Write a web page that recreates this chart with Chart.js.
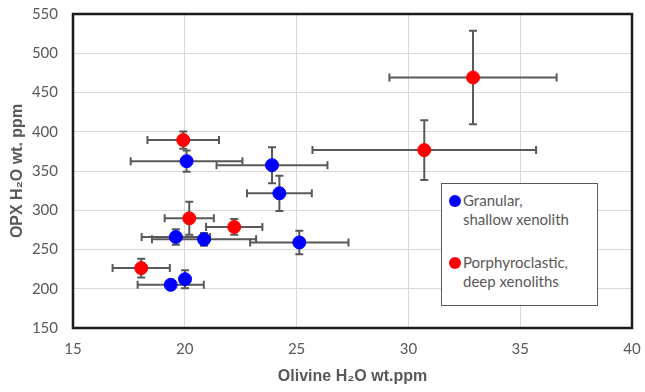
<!DOCTYPE html>
<html>
<head>
<meta charset="utf-8">
<script src="https://cdn.jsdelivr.net/npm/chart.js@4/dist/chart.umd.min.js"></script>
<style>
  html, body { margin: 0; padding: 0; background: #fff; }
  #wrap { position: relative; width: 645px; height: 392px; }
  #legend { position: absolute; left: 441px; top: 183px; width: 157px; height: 123px;
    border: 1px solid #595959; background: #fff; font-family: Lato, "Liberation Sans", sans-serif;
    font-size: 15px; color: #595959; box-sizing: border-box; }
  .item { position: absolute; left: 21px; line-height: 19px; white-space: pre-line; }
  .dot { position: absolute; left: -14px; top: 4px; width: 12px; height: 12px; border-radius: 50%; }
</style>
</head>
<body>
<div id="wrap">
  <canvas id="c" width="645" height="392"></canvas>
  <div id="legend"></div>
</div>
<script>
// ---- data ----
const seriesNames = ["Granular,\nshallow xenolith", "Porphyroclastic,\ndeep xenoliths"];

const granularX    = [20.08, 23.90, 24.23, 19.60, 20.86, 25.12, 20.01, 19.37];
const granularY    = [362.5, 357.4, 321.6, 265.9, 262.9, 259.0, 212.2, 205.0];
const granularXErr = [2.50, 2.48, 1.45, 1.53, 2.33, 2.20, 0, 1.48];
const granularYErr = [13.5, 23.0, 22.4, 9.8, 8.0, 15.0, 11.5, 0];

const porphX    = [19.93, 20.20, 22.21, 18.05, 32.89, 30.71];
const porphY    = [389.4, 289.7, 278.7, 226.3, 469.1, 376.6];
const porphXErr = [1.60, 1.10, 1.26, 1.28, 3.74, 5.00];
const porphYErr = [11.0, 21.0, 10.0, 12.0, 59.6, 38.0];

const xTicks = [15, 20, 25, 30, 35, 40];
const yTicks = [150, 200, 250, 300, 350, 400, 450, 500, 550];

const xTitle = "Olivine H\u2082O wt.ppm";
const yTitle = "OPX H\u2082O wt. ppm";

// ---- build datasets ----
function pts(xs, ys, xe, ye) {
  return xs.map((x, i) => ({ x: x, y: ys[i], xErr: xe[i], yErr: ye[i] }));
}

const errorBars = {
  id: 'errorBars',
  beforeDatasetsDraw(chart) {
    const ctx = chart.ctx;
    const xs = chart.scales.x, ys = chart.scales.y;
    const cap = 4;
    ctx.save();
    ctx.strokeStyle = '#595959';
    ctx.lineWidth = 2;
    chart.data.datasets.forEach(ds => {
      ds.data.forEach(p => {
        const px = xs.getPixelForValue(p.x), py = ys.getPixelForValue(p.y);
        if (p.xErr) {
          const l = xs.getPixelForValue(p.x - p.xErr), r = xs.getPixelForValue(p.x + p.xErr);
          ctx.beginPath();
          ctx.moveTo(l, py); ctx.lineTo(r, py);
          ctx.moveTo(l, py - cap); ctx.lineTo(l, py + cap);
          ctx.moveTo(r, py - cap); ctx.lineTo(r, py + cap);
          ctx.stroke();
        }
        if (p.yErr) {
          const t = ys.getPixelForValue(p.y + p.yErr), b = ys.getPixelForValue(p.y - p.yErr);
          ctx.beginPath();
          ctx.moveTo(px, t); ctx.lineTo(px, b);
          ctx.moveTo(px - cap, t); ctx.lineTo(px + cap, t);
          ctx.moveTo(px - cap, b); ctx.lineTo(px + cap, b);
          ctx.stroke();
        }
      });
    });
    ctx.restore();
  }
};

const plotBorder = {
  id: 'plotBorder',
  afterDraw(chart) {
    const a = chart.chartArea, ctx = chart.ctx;
    ctx.save();
    ctx.strokeStyle = '#1a1a1a';
    ctx.lineWidth = 2.5;
    ctx.strokeRect(a.left, a.top, a.right - a.left, a.bottom - a.top);
    ctx.restore();
  }
};

const htmlLegend = {
  id: 'htmlLegend',
  afterUpdate(chart) {
    const box = document.getElementById('legend');
    box.innerHTML = '';
    const tops = [7, 69];
    chart.data.datasets.forEach((ds, i) => {
      const it = document.createElement('div');
      it.className = 'item';
      it.style.top = tops[i] + 'px';
      const d = document.createElement('span');
      d.className = 'dot';
      d.style.background = ds.backgroundColor;
      it.appendChild(d);
      it.appendChild(document.createTextNode(ds.label));
      box.appendChild(it);
    });
  }
};

new Chart(document.getElementById('c'), {
  type: 'scatter',
  data: {
    datasets: [
      { label: seriesNames[0], data: pts(granularX, granularY, granularXErr, granularYErr),
        backgroundColor: '#0000ff', borderColor: '#0000ff', pointRadius: 6.5, pointHoverRadius: 6.5 },
      { label: seriesNames[1], data: pts(porphX, porphY, porphXErr, porphYErr),
        backgroundColor: '#ff0000', borderColor: '#ff0000', pointRadius: 6.5, pointHoverRadius: 6.5 }
    ]
  },
  options: {
    responsive: false,
    animation: false,
    events: [],
    layout: { padding: { top: 14, right: 13, left: 0, bottom: 0 } },
    plugins: { legend: { display: false }, tooltip: { enabled: false } },
    scales: {
      x: {
        type: 'linear', min: xTicks[0], max: xTicks[xTicks.length - 1],
        afterBuildTicks(s) { s.ticks = xTicks.map(v => ({ value: v })); },
        afterFit(s) { s.height = 64; s.paddingLeft = 0; s.paddingRight = 0; },
        grid: { color: '#d9d9d9', lineWidth: 1, drawTicks: false },
        border: { display: false },
        ticks: { color: '#595959', padding: 12, font: { family: 'Lato', size: 15 } },
        title: { display: true, text: xTitle, color: '#595959',
          font: { family: '"Liberation Sans", Arial, sans-serif', size: 16, weight: 'bold' },
          padding: { top: 0, bottom: 6 } }
      },
      y: {
        type: 'linear', min: yTicks[0], max: yTicks[yTicks.length - 1],
        afterBuildTicks(s) { s.ticks = yTicks.map(v => ({ value: v })); },
        afterFit(s) { s.width = 73; s.paddingTop = 0; s.paddingBottom = 0; },
        grid: { color: '#d9d9d9', lineWidth: 1, drawTicks: false },
        border: { display: false },
        ticks: { color: '#595959', padding: 15, font: { family: 'Lato', size: 15 } },
        title: { display: true, text: yTitle, color: '#595959',
          font: { family: '"Liberation Sans", Arial, sans-serif', size: 16, weight: 'bold' },
          padding: { top: 8, bottom: 0 } }
      }
    }
  },
  plugins: [errorBars, plotBorder, htmlLegend]
});
</script>
</body>
</html>
